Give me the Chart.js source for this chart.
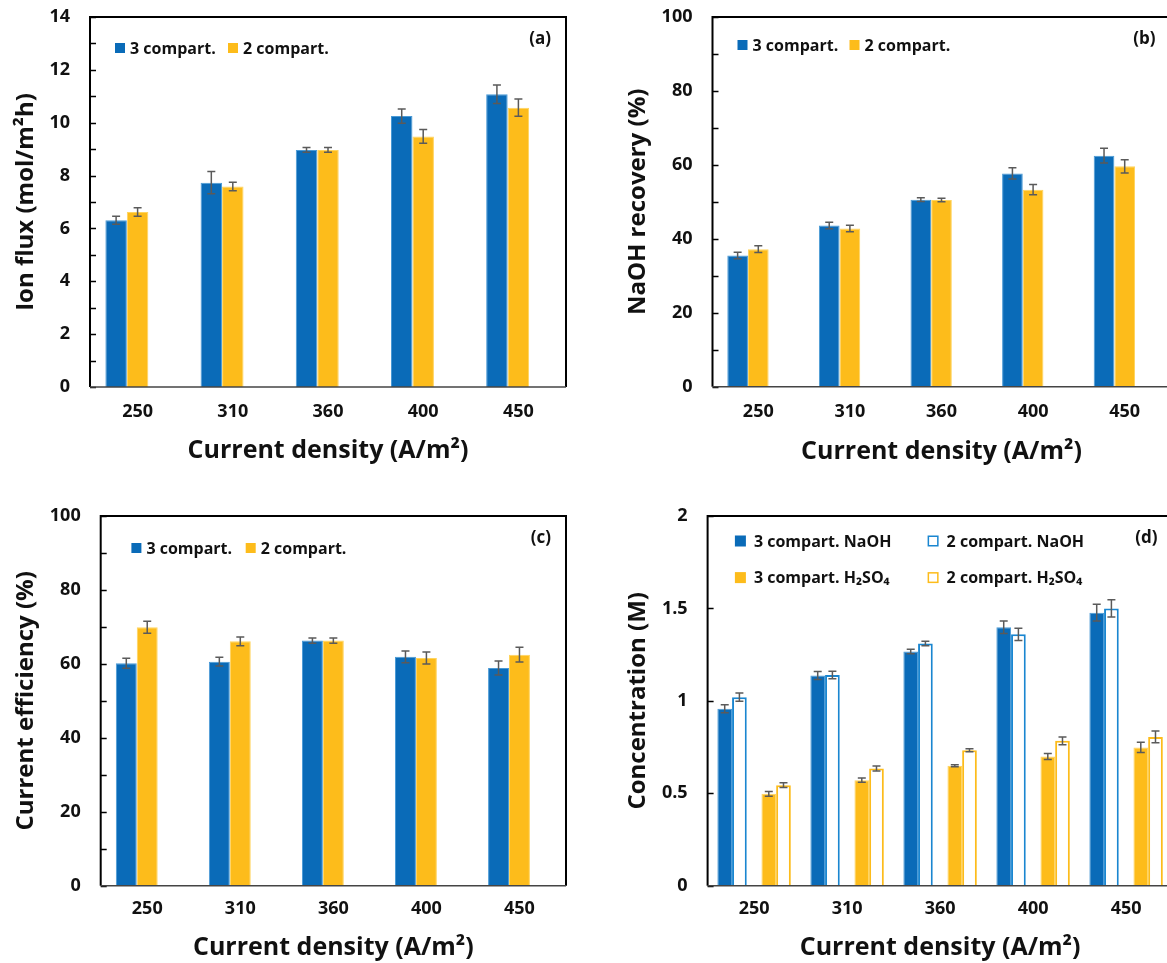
<!DOCTYPE html>
<html>
<head>
<meta charset="utf-8">
<script src="https://cdn.jsdelivr.net/npm/chart.js@4/dist/chart.umd.min.js"></script>
<style>
  html, body { margin: 0; padding: 0; background: #fff; }
  body { width: 1167px; height: 963px; overflow: hidden; position: relative; }
  canvas { position: absolute; }
</style>
</head>
<body>
<canvas id="pa" width="583" height="503" style="left:0;top:-23px"></canvas>
<canvas id="pb" width="600" height="503" style="left:583px;top:-23px"></canvas>
<canvas id="pc" width="583" height="487" style="left:0;top:476px"></canvas>
<canvas id="pd" width="600" height="487" style="left:583px;top:476px"></canvas>
<script>
const categories = ['250', '310', '360', '400', '450'];

// (a) ion flux, mol/m2h
const fluxThree = [6.31, 7.73, 8.97, 10.25, 11.08];
const fluxThreeErr = [0.15, 0.42, 0.09, 0.27, 0.35];
const fluxTwo = [6.62, 7.59, 8.97, 9.48, 10.57];
const fluxTwoErr = [0.16, 0.16, 0.09, 0.26, 0.33];

// (b) NaOH recovery, %
const recoveryThree = [35.5, 43.6, 50.6, 57.7, 62.5];
const recoveryThreeErr = [0.9, 0.9, 0.5, 1.5, 2.0];
const recoveryTwo = [37.2, 42.8, 50.5, 53.3, 59.6];
const recoveryTwoErr = [0.9, 0.9, 0.5, 1.4, 1.8];

// (c) current efficiency, %
const effThree = [60.2, 60.6, 66.3, 61.9, 58.9];
const effThreeErr = [1.35, 1.2, 0.7, 1.6, 1.9];
const effTwo = [69.9, 66.1, 66.3, 61.6, 62.5];
const effTwoErr = [1.6, 1.2, 0.7, 1.6, 2.0];

// (d) concentration, M
const naohThree = [0.957, 1.137, 1.267, 1.398, 1.477];
const naohThreeErr = [0.022, 0.022, 0.012, 0.034, 0.045];
const naohTwo = [1.02, 1.14, 1.31, 1.36, 1.50];
const naohTwoErr = [0.022, 0.02, 0.012, 0.033, 0.047];
const acidThree = [0.497, 0.571, 0.649, 0.699, 0.748];
const acidThreeErr = [0.013, 0.012, 0.005, 0.016, 0.028];
const acidTwo = [0.544, 0.634, 0.733, 0.784, 0.805];
const acidTwoErr = [0.013, 0.014, 0.008, 0.021, 0.032];

const BLUE = '#0a6bb8';
const YELLOW = '#fdbc1b';
const FONT = '"Open Sans", "Noto Sans", sans-serif';

// box around the plot, inward tick marks, error bars, legend and panel letter
const deco = {
  id: 'deco',
  afterDatasetsDraw(chart) {
    const ctx = chart.ctx, y = chart.scales.y;
    chart.data.datasets.forEach((ds, i) => {
      if (!ds.errors) return;
      chart.getDatasetMeta(i).data.forEach((bar, j) => {
        const v = ds.data[j], e = ds.errors[j];
        if (v == null) return;
        const t = y.getPixelForValue(v + e), b = y.getPixelForValue(v - e);
        ctx.save();
        ctx.strokeStyle = '#5a5a5a';
        ctx.lineWidth = 1.5;
        ctx.beginPath();
        ctx.moveTo(bar.x, t); ctx.lineTo(bar.x, b);
        ctx.moveTo(bar.x - 4, t); ctx.lineTo(bar.x + 4, t);
        ctx.moveTo(bar.x - 4, b); ctx.lineTo(bar.x + 4, b);
        ctx.stroke();
        ctx.restore();
      });
    });
  },
  afterDraw(chart, args, o) {
    const ctx = chart.ctx, a = chart.chartArea, y = chart.scales.y;
    ctx.save();
    // minor/major ticks pointing into the plot
    ctx.strokeStyle = '#000';
    ctx.lineWidth = 1.5;
    ctx.beginPath();
    for (let v = y.min; v <= y.max + 1e-9; v += o.minor) {
      const py = Math.round(y.getPixelForValue(v)) + 0.5;
      ctx.moveTo(a.left, py); ctx.lineTo(a.left + 6, py);
    }
    ctx.stroke();
    // frame
    ctx.lineWidth = 2;
    ctx.beginPath();
    ctx.moveTo(a.left, a.bottom); ctx.lineTo(a.left, a.top);
    ctx.lineTo(a.right, a.top); ctx.lineTo(a.right, a.bottom);
    ctx.stroke();
    ctx.strokeStyle = '#444';
    ctx.lineWidth = 1.5;
    ctx.beginPath();
    ctx.moveTo(a.left, a.bottom); ctx.lineTo(a.right, a.bottom);
    ctx.stroke();
    // legend
    ctx.font = 'bold 16px ' + FONT;
    ctx.textBaseline = 'middle';
    ctx.textAlign = 'left';
    o.legend.forEach(it => {
      const ds = chart.data.datasets[it.ds];
      const bx = a.left + it.dx, cy = a.top + it.dy, s = it.size || 10;
      if (it.hollow) {
        ctx.fillStyle = '#fff';
        ctx.fillRect(bx, cy - s / 2, s, s);
        ctx.strokeStyle = ds.borderColor;
        ctx.lineWidth = 1.5;
        ctx.strokeRect(bx + 0.75, cy - s / 2 + 0.75, s - 1.5, s - 1.5);
      } else {
        ctx.fillStyle = ds.backgroundColor;
        ctx.fillRect(bx, cy - s / 2, s, s);
      }
      ctx.fillStyle = '#111';
      ctx.fillText(ds.label, bx + s + (it.gap || 5), cy + 1);
    });
    // panel letter
    ctx.font = 'bold 17px ' + FONT;
    ctx.textAlign = 'right';
    ctx.fillStyle = '#111';
    ctx.fillText(o.letter, a.right - 15, a.top + 22);
    ctx.restore();
  }
};

function barSet(label, data, errors, fill, edge, extra) {
  return Object.assign({
    label: label, data: data, errors: errors,
    backgroundColor: fill, borderColor: edge, borderWidth: 1,
    borderSkipped: 'bottom', barPercentage: 1
  }, extra || {});
}

function spacer() {
  return { label: '', data: categories.map(() => null), barPercentage: 1 };
}

function makePanel(id, p) {
  return new Chart(document.getElementById(id), {
    type: 'bar',
    data: { labels: categories, datasets: p.datasets },
    options: {
      responsive: false,
      animation: false,
      devicePixelRatio: 1,
      datasets: { bar: { categoryPercentage: p.catPct } },
      layout: { padding: { top: 40, right: p.padRight, left: 0, bottom: 0 } },
      plugins: {
        legend: { display: false },
        tooltip: { enabled: false },
        deco: { letter: p.letter, minor: p.minor, legend: p.legend }
      },
      scales: {
        x: {
          grid: { display: false },
          border: { display: false },
          ticks: { color: '#111', font: { family: FONT, size: 18, weight: 'bold' }, padding: p.xTickPad },
          title: {
            display: true, text: 'Current density (A/m²)', color: '#111',
            font: { family: FONT, size: 25, weight: 'bold' },
            padding: { top: 0, bottom: p.xTitlePad }
          },
          afterFit: s => { s.height = p.xHeight; }
        },
        y: {
          min: p.min, max: p.max,
          grid: { display: false, drawTicks: false },
          border: { display: false },
          ticks: {
            stepSize: p.step, color: '#111', padding: 20,
            font: { family: FONT, size: 18, weight: 'bold' },
            callback: v => String(+v.toFixed(2))
          },
          title: {
            display: true, text: p.yTitle, color: '#111',
            font: { family: FONT, size: 24, weight: 'bold' },
            padding: { top: p.yTitlePad, bottom: 0 }
          },
          afterFit: s => { s.width = p.yWidth; }
        }
      }
    },
    plugins: [deco]
  });
}

makePanel('pa', {
  letter: '(a)', yTitle: 'Ion flux (mol/m²h)', min: 0, max: 14, step: 2, minor: 1,
  catPct: 0.677, padRight: 17, yWidth: 90, xHeight: 93,
  yTitlePad: 11.6, xTitlePad: 14.6, xTickPad: 6,
  legend: [{ ds: 0, dx: 25, dy: 31 }, { ds: 1, dx: 138, dy: 31 }],
  datasets: [
    barSet('3 compart.', fluxThree, fluxThreeErr, BLUE, '#4a9ad6'),
    barSet('2 compart.', fluxTwo, fluxTwoErr, YELLOW, '#ffd45e'),
    spacer()
  ]
});

makePanel('pb', {
  letter: '(b)', yTitle: 'NaOH recovery (%)', min: 0, max: 100, step: 20, minor: 10,
  catPct: 0.677, padRight: 12.5, yWidth: 129.5, xHeight: 93.3,
  yTitlePad: 40.6, xTitlePad: 13.6, xTickPad: 6,
  legend: [{ ds: 0, dx: 25, dy: 28 }, { ds: 1, dx: 137, dy: 28 }],
  datasets: [
    barSet('3 compart.', recoveryThree, recoveryThreeErr, BLUE, '#4a9ad6'),
    barSet('2 compart.', recoveryTwo, recoveryTwoErr, YELLOW, '#ffd45e'),
    spacer()
  ]
});

makePanel('pc', {
  letter: '(c)', yTitle: 'Current efficiency (%)', min: 0, max: 100, step: 20, minor: 10,
  catPct: 0.675, padRight: 17, yWidth: 100.7, xHeight: 77.3,
  yTitlePad: 11.6, xTitlePad: 0.6, xTickPad: 4,
  legend: [{ ds: 0, dx: 30.7, dy: 32 }, { ds: 1, dx: 145, dy: 32 }],
  datasets: [
    barSet('3 compart.', effThree, effThreeErr, BLUE, '#4a9ad6'),
    barSet('2 compart.', effTwo, effTwoErr, YELLOW, '#ffd45e'),
    spacer()
  ]
});

makePanel('pd', {
  letter: '(d)', yTitle: 'Concentration (M)', min: 0, max: 2, step: 0.5, minor: 0.5,
  catPct: 0.79, padRight: 10.4, yWidth: 124.6, xHeight: 77.3,
  yTitlePad: 40.6, xTitlePad: 0, xTickPad: 4,
  legend: [
    { ds: 0, dx: 27.3, dy: 25, size: 11, gap: 8 },
    { ds: 1, dx: 220, dy: 25, size: 11, gap: 8, hollow: true },
    { ds: 3, dx: 27.3, dy: 61.6, size: 11, gap: 8 },
    { ds: 4, dx: 220, dy: 61.6, size: 11, gap: 8, hollow: true }
  ],
  datasets: [
    barSet('3 compart. NaOH', naohThree, naohThreeErr, BLUE, '#4a9ad6'),
    barSet('2 compart. NaOH', naohTwo, naohTwoErr, '#ffffff', '#1a86d0', { borderWidth: 2 }),
    spacer(),
    barSet('3 compart. H₂SO₄', acidThree, acidThreeErr, YELLOW, '#ffd45e'),
    barSet('2 compart. H₂SO₄', acidTwo, acidTwoErr, '#ffffff', YELLOW, { borderWidth: 2 })
  ]
});
</script>
</body>
</html>
